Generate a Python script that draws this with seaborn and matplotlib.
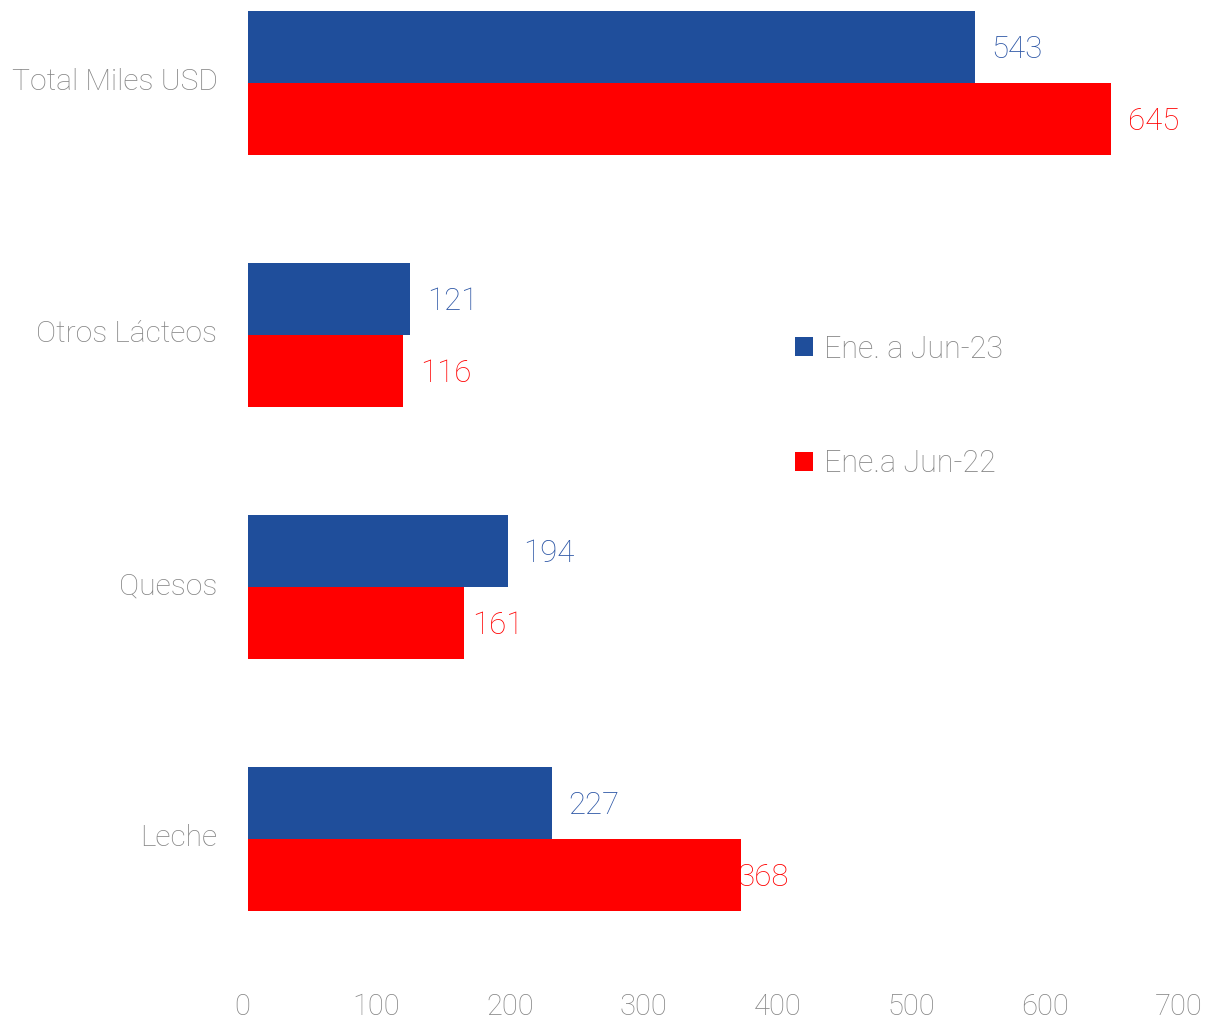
import matplotlib
matplotlib.use("Agg")
import matplotlib.pyplot as plt
import matplotlib.transforms as mtransforms
from matplotlib.patches import Patch
import seaborn as sns
import pandas as pd

categories = ["Total Miles USD", "Otros Lácteos", "Quesos", "Leche"]
series_names = ["Ene. a Jun-23", "Ene.a Jun-22"]
values_23 = [543, 121, 194, 227]
values_22 = [645, 116, 161, 368]
x_ticks = [0, 100, 200, 300, 400, 500, 600, 700]

BLUE = "#1F4E9B"
RED = "#FF0000"
GREY = "#858585"
LABEL_BLUE = "#2B55A5"
WEIGHT = "light"

sns.set_theme(style="white")
plt.rcParams["font.family"] = ["Roboto", "DejaVu Sans"]

df = pd.DataFrame({
    "categoria": categories * 2,
    "valor": values_23 + values_22,
    "serie": [series_names[0]] * len(categories) + [series_names[1]] * len(categories),
})

W, H = 1206, 1019
fig = plt.figure(figsize=(W / 100, H / 100), dpi=100)
ax = fig.add_axes([248 / W, 54 / H, (1185 - 248) / W, (H - 54) / H])

sns.barplot(data=df, x="valor", y="categoria", hue="serie", orient="h",
            palette=[BLUE, RED], width=0.572, saturation=1, errorbar=None,
            legend=False, ax=ax, zorder=3, linewidth=0)

ax.set_xlim(0, 700)
ax.set_ylim(3.5, -0.33)
ax.set_xticks(x_ticks)
ax.set_xlabel("")
ax.set_ylabel("")
for s in ax.spines.values():
    s.set_visible(False)
ax.tick_params(axis="x", length=0, pad=20, labelsize=21, labelcolor=GREY)
ax.tick_params(axis="y", length=0, pad=22, labelsize=21.6, labelcolor=GREY)
shift = mtransforms.ScaledTranslation(-6 / 100, 0, fig.dpi_scale_trans)
for lbl in ax.get_xticklabels():
    lbl.set_transform(lbl.get_transform() + shift)
    lbl.set_fontweight(WEIGHT)
up = mtransforms.ScaledTranslation(0, 4 / 100, fig.dpi_scale_trans)
for lbl in ax.get_yticklabels():
    lbl.set_transform(lbl.get_transform() + up)
    lbl.set_fontweight(WEIGHT)

# data labels, nudged right of each bar end (in points)
label_offsets = [[12, 12, 11, 12], [12, 12, 6, -2]]
for ci, (cont, vals, col) in enumerate(zip(ax.containers, [values_23, values_22], [LABEL_BLUE, RED])):
    for bi, (bar, v) in enumerate(zip(cont, vals)):
        ax.annotate(f"{v}", (bar.get_width(), bar.get_y() + bar.get_height() / 2),
                    xytext=(label_offsets[ci][bi], -1.5), textcoords="offset points",
                    ha="left", va="center", fontsize=22.5, color=col,
                    fontweight=WEIGHT, zorder=1)

handles = [Patch(facecolor=BLUE, linewidth=0), Patch(facecolor=RED, linewidth=0)]
fig.legend(handles, series_names, loc="upper left",
           bbox_to_anchor=(767 / W, 1 - 307 / H), frameon=False,
           labelcolor=GREY, handlelength=0.6, handleheight=0.6,
           handletextpad=0.35, labelspacing=2.8, prop={"weight": WEIGHT, "size": 22})

fig.savefig("out.png", dpi=100)
